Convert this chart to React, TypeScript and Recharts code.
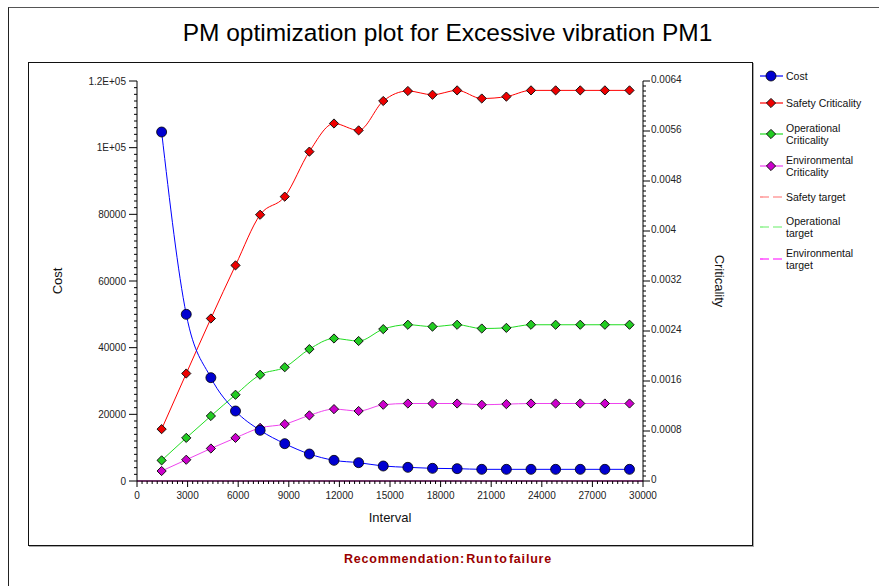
import React from 'react';
import { LineChart, Line, XAxis, YAxis, ReferenceLine } from 'recharts';

const intervals = [
    1460, 2920, 4380, 5840, 7300, 8760, 10220, 11680, 13140, 14600,
    16060, 17520, 18980, 20440, 21900, 23360, 24820, 26280, 27740, 29200,
];
const cost = [
    104700, 50000, 31000, 21000, 15200, 11200, 8100, 6200, 5500, 4500,
    4100, 3800, 3700, 3500, 3500, 3500, 3500, 3500, 3500, 3500,
];
const safetyCriticality = [
    0.00083, 0.00172, 0.0026, 0.00345, 0.00426, 0.00455, 0.00527, 0.00572, 0.00561, 0.00608,
    0.00624, 0.00618, 0.00625, 0.00612, 0.00615, 0.00625, 0.00625, 0.00625, 0.00625, 0.00625,
];
const operationalCriticality = [
    0.00033, 0.00069, 0.00104, 0.00138, 0.0017, 0.00182, 0.00211, 0.00228, 0.00224, 0.00243,
    0.0025, 0.00247, 0.0025, 0.00244, 0.00245, 0.0025, 0.0025, 0.0025, 0.0025, 0.0025,
];
const environmentalCriticality = [
    0.00016, 0.00034, 0.00052, 0.00069, 0.00085, 0.00091, 0.00105, 0.00115, 0.00112, 0.00122,
    0.00124, 0.00124, 0.00124, 0.00122, 0.00123, 0.00124, 0.00124, 0.00124, 0.00124, 0.00124,
];
const safetyTarget = 0;
const operationalTarget = 0;
const environmentalTarget = 0;

const xTickLabels = ['0', '3000', '6000', '9000', '12000', '15000', '18000', '21000', '24000', '27000', '30000'];
const costTickLabels = ['0', '20000', '40000', '60000', '80000', '1E+05', '1.2E+05'];
const criticalityTickLabels = ['0', '0.0008', '0.0016', '0.0024', '0.0032', '0.004', '0.0048', '0.0056', '0.0064'];

const data = intervals.map((interval, i) => ({
    interval,
    cost: cost[i],
    safety: safetyCriticality[i],
    operational: operationalCriticality[i],
    environmental: environmentalCriticality[i],
}));

// 10 minor ticks between each labelled one
const xTicks = Array.from({ length: 101 }, (_, i) => i * 300);
const costTicks = Array.from({ length: 61 }, (_, i) => i * 2000);
const critTicks = Array.from({ length: 81 }, (_, i) => Number((i * 0.00008).toFixed(6)));

const FONT = '"Liberation Sans", Arial, sans-serif';
const TICK_COLOR = '#222';

const XTick = ({ x, y, payload }: any) => {
    const step = Math.round(payload.value / 300);
    const major = step % 10 === 0;
    return (
        <g>
            <line x1={x} y1={y} x2={x} y2={y + (major ? 6 : 3)} stroke="#000" />
            {major && (
                <text x={x} y={y + 18} textAnchor="middle" fontSize={10} fill={TICK_COLOR} fontFamily={FONT}>
                    {xTickLabels[step / 10]}
                </text>
            )}
        </g>
    );
};

const CostTick = ({ x, y, payload }: any) => {
    const step = Math.round(payload.value / 2000);
    const major = step % 10 === 0;
    return (
        <g>
            <line x1={x} y1={y} x2={x - (major ? 8 : 3)} y2={y} stroke="#000" />
            {major && (
                <text x={x - 11} y={y + 3.5} textAnchor="end" fontSize={10} fill={TICK_COLOR} fontFamily={FONT}>
                    {costTickLabels[step / 10]}
                </text>
            )}
        </g>
    );
};

const CritTick = ({ x, y, payload }: any) => {
    const step = Math.round(payload.value / 0.00008);
    const major = step % 10 === 0;
    return (
        <g>
            <line x1={x} y1={y} x2={x + (major ? 7 : 3)} y2={y} stroke="#000" />
            {major && (
                <text x={x + 8} y={y + 2} textAnchor="start" fontSize={10} fill={TICK_COLOR} fontFamily={FONT}>
                    {criticalityTickLabels[step / 10]}
                </text>
            )}
        </g>
    );
};

const diamondPath = (cx: number, cy: number, r: number) =>
    `M${cx},${cy - r}L${cx + r},${cy}L${cx},${cy + r}L${cx - r},${cy}Z`;

const diamondDot = (fill: string) => (props: any) => {
    const { cx, cy, index } = props;
    if (cx == null || cy == null) return <g key={`d-${index}`} />;
    return <path key={`d-${index}`} d={diamondPath(cx, cy, 4.6)} fill={fill} stroke="#111" strokeWidth={1} />;
};

const legendItems = [
    { label: 'Cost', line: '#0000ff', marker: 'circle', fill: '#0000d0', dashed: false },
    { label: 'Safety Criticality', line: '#ff0000', marker: 'diamond', fill: '#ee0000', dashed: false },
    { label: 'Operational\nCriticality', line: '#22dd22', marker: 'diamond', fill: '#22cc22', dashed: false },
    { label: 'Environmental\nCriticality', line: '#ee44ee', marker: 'diamond', fill: '#cc00cc', dashed: false },
    { label: 'Safety target', line: '#ff6f6f', marker: null, fill: '', dashed: true },
    { label: 'Operational\ntarget', line: '#66ee66', marker: null, fill: '', dashed: true },
    { label: 'Environmental\ntarget', line: '#ff00ff', marker: null, fill: '', dashed: true },
];
const legendCenters = [76, 103, 134, 166, 197, 227, 259];

const Overlay = () => (
    <svg width={879} height={586} style={{ position: 'absolute', left: 0, top: 0, pointerEvents: 'none' }} fontFamily={FONT}>
        <text x={447.5} y={41} textAnchor="middle" fontSize={24.5} fill="#000">
            PM optimization plot for Excessive vibration PM1
        </text>
        <text transform="translate(62,281) rotate(-90)" textAnchor="middle" fontSize={13} fill="#111">Cost</text>
        <text transform="translate(714.5,281) rotate(90)" textAnchor="middle" fontSize={13} fill="#111">Criticality</text>
        <text x={390} y={522} textAnchor="middle" fontSize={13} fill="#111">Interval</text>
        <text x={448} y={563} textAnchor="middle" fontSize={12.5} fontWeight="bold" fill="#990000" letterSpacing={0.8} wordSpacing={-3}>
            Recommendation: Run to failure
        </text>
        {legendItems.map((item, i) => {
            const cy = legendCenters[i];
            const lines = item.label.split('\n');
            const top = cy - ((lines.length - 1) * 12) / 2;
            return (
                <g key={item.label}>
                    <line x1={760} y1={cy} x2={783} y2={cy} stroke={item.line} strokeWidth={1.2} strokeDasharray={item.dashed ? '9 4' : undefined} />
                    {item.marker === 'circle' && <circle cx={771} cy={cy} r={5} fill={item.fill} stroke="#000" strokeWidth={0.8} />}
                    {item.marker === 'diamond' && <path d={diamondPath(771, cy, 4.6)} fill={item.fill} stroke="#111" />}
                    {lines.map((t, j) => (
                        <text key={t} x={786} y={top + j * 12 + 3.7} fontSize={10.5} fill="#111">{t}</text>
                    ))}
                </g>
            );
        })}
    </svg>
);

const App = () => {
    return (
        <div style={{ position: 'absolute', left: 0, top: 0, width: 879, height: 586, overflow: 'hidden', background: '#fff', fontFamily: FONT }}>
            <div style={{ position: 'absolute', left: 8, top: 7, width: 900, height: 600, borderLeft: '1px solid #222', borderTop: '1px solid #555' }} />
            <div style={{ position: 'absolute', left: 28, top: 62, width: 723, height: 482, border: '1px solid #111', boxShadow: '1px 1px 0 #aaa' }} />
            <LineChart
                width={879}
                height={586}
                data={data}
                margin={{ top: 81, right: 176, bottom: 75, left: 37 }}
                style={{ position: 'absolute', left: 0, top: 0 }}
            >
                <XAxis
                    dataKey="interval"
                    type="number"
                    domain={[0, 30000]}
                    ticks={xTicks}
                    interval={0}
                    tick={XTick}
                    tickLine={false}
                    tickSize={0}
                    tickMargin={0}
                    height={30}
                    axisLine={{ stroke: '#000' }}
                />
                <YAxis
                    yAxisId="left"
                    type="number"
                    domain={[0, 120000]}
                    ticks={costTicks}
                    interval={0}
                    tick={CostTick}
                    tickLine={false}
                    tickSize={0}
                    tickMargin={0}
                    width={100}
                    axisLine={{ stroke: '#000' }}
                />
                <YAxis
                    yAxisId="right"
                    orientation="right"
                    type="number"
                    domain={[0, 0.0064]}
                    ticks={critTicks}
                    interval={0}
                    tick={CritTick}
                    tickLine={false}
                    tickSize={0}
                    tickMargin={0}
                    width={60}
                    axisLine={{ stroke: '#000' }}
                />
                <ReferenceLine yAxisId="right" y={safetyTarget} stroke="#ff6f6f" />
                <ReferenceLine yAxisId="right" y={operationalTarget} stroke="#66ee66" />
                <ReferenceLine yAxisId="right" y={environmentalTarget} stroke="#ff00ff" />
                <Line
                    yAxisId="right"
                    type="monotone"
                    dataKey="safety"
                    stroke="#ff0000"
                    strokeWidth={1}
                    dot={diamondDot('#ee0000')}
                    isAnimationActive={false}
                />
                <Line
                    yAxisId="right"
                    type="monotone"
                    dataKey="operational"
                    stroke="#22dd22"
                    strokeWidth={1}
                    dot={diamondDot('#22cc22')}
                    isAnimationActive={false}
                />
                <Line
                    yAxisId="right"
                    type="monotone"
                    dataKey="environmental"
                    stroke="#ee44ee"
                    strokeWidth={1}
                    dot={diamondDot('#cc00cc')}
                    isAnimationActive={false}
                />
                <Line
                    yAxisId="left"
                    type="monotone"
                    dataKey="cost"
                    stroke="#0000ff"
                    strokeWidth={1}
                    dot={{ r: 5, fill: '#0000d0', stroke: '#000', strokeWidth: 0.8 }}
                    isAnimationActive={false}
                />
            </LineChart>
            <Overlay />
        </div>
    );
};

export default App;
